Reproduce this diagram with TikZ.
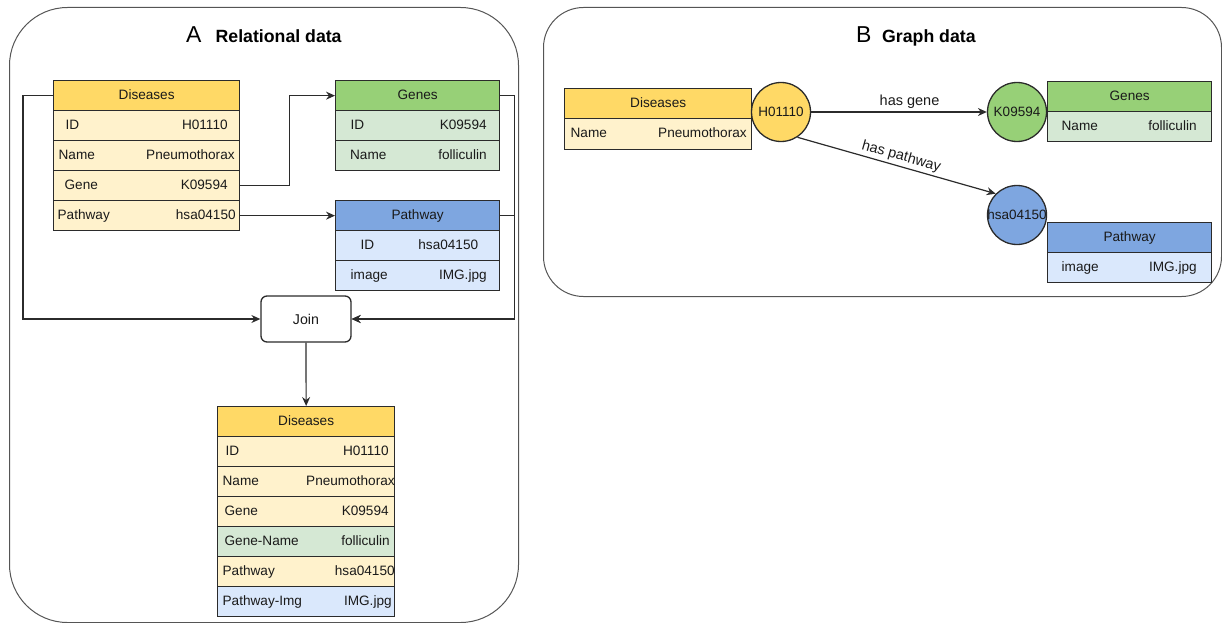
\documentclass[tikz,border=0pt]{standalone}
\usepackage{fontspec}
\setmainfont{Liberation Sans}
\usetikzlibrary{arrows.meta}
\definecolor{yhead}{HTML}{FFD966}
\definecolor{yrow}{HTML}{FFF2CC}
\definecolor{ghead}{HTML}{97D077}
\definecolor{grow}{HTML}{D5E8D4}
\definecolor{bhead}{HTML}{7EA6E0}
\definecolor{brow}{HTML}{DAE8FC}
\definecolor{bd}{HTML}{2B2B2B}
\definecolor{txt}{HTML}{1A1A1A}
\definecolor{panelc}{HTML}{555555}
\newcommand{\myfs}[1]{\fontsize{#1}{#1}\selectfont}
\def\rowh{30}
\newcommand{\thead}[6]{\node[cellbox, fill=#5, minimum height=\rowh pt] (#1) at (#2,#3) {\hbox to #4pt{\hfil #6\hfil}};}
\newcommand{\trow}[9]{\node[cellbox, fill=#5, minimum height=\rowh pt] (#1) at (#2,#3) {\hbox to #4pt{\hspace*{#6pt}#7\hfill #8\hspace*{#9pt}}};}
\tikzset{
  cellbox/.style={draw=bd, line width=1.3pt, inner sep=0pt, anchor=north west, text=txt,
    font=\myfs{13.6}, text height=9.8pt, text depth=2.7pt},
  panel/.style={draw=panelc, line width=1pt, inner sep=0pt, anchor=north west},
  conn/.style={draw=bd, line width=1.2pt, -{Stealth[length=9pt, width=8pt, inset=3pt]}},
  gcirc/.style={circle, draw=bd, line width=1.3pt, minimum size=59pt, inner sep=0pt, text=txt, font=\myfs{13.5}},
  elab/.style={font=\myfs{14.5}, text=txt, inner sep=2.5pt},
  ttl/.style={anchor=base west, inner sep=0pt, text=black},
  joinbox/.style={draw=bd, line width=1.3pt, rounded corners=6pt, fill=white, minimum width=90pt, minimum height=46pt, inner sep=0pt, font=\myfs{14.2}, text=txt}
}
\begin{document}
\begin{tikzpicture}[x=1pt, y=-1pt]
\useasboundingbox (0,0) rectangle (1222,623);
% panels
\node[panel, rounded corners=58pt, minimum width=509pt, minimum height=615pt] (panA) at (9,7) {};
\node[panel, rounded corners=40pt, minimum width=678pt, minimum height=289pt] (panB) at (543,7) {};
% titles
\node[ttl, font=\myfs{23}] (tA) at (186,43) {A};
\node[ttl, font=\bfseries\myfs{17.7}] (tA2) at (215.5,43) {Relational data};
\node[ttl, font=\myfs{23}] (tB) at (856,43) {B};
\node[ttl, font=\bfseries\myfs{17.7}] (tB2) at (882,43) {Graph data};

% ---- Panel A: Diseases
\def\rowh{30}
\thead{dAh}{53}{80}{186}{yhead}{Diseases}
\trow{dA1}{53}{110}{186}{yrow}{12}{ID}{H01110}{12}
\trow{dA2}{53}{140}{186}{yrow}{5}{Name}{Pneumothorax}{5}
\trow{dA3}{53}{170}{186}{yrow}{11}{Gene}{K09594}{12}
\trow{dA4}{53}{200}{186}{yrow}{4}{Pathway}{hsa04150}{4}
% Genes
\thead{gAh}{335}{80}{164}{ghead}{Genes}
\trow{gA1}{335}{110}{164}{grow}{15}{ID}{K09594}{13}
\trow{gA2}{335}{140}{164}{grow}{14.5}{Name}{folliculin}{13}
% Pathway
\thead{pAh}{335}{200}{164}{bhead}{Pathway}
\trow{pA1}{335}{230}{164}{brow}{25}{ID}{hsa04150}{21.5}
\trow{pA2}{335}{260}{164}{brow}{15}{image}{IMG.jpg}{13}
% Join
\node[joinbox] (join) at (306,319) {Join};
% Result
\def\rowh{30}
\thead{rh}{217}{406}{177}{yhead}{Diseases}
\trow{r1}{217}{436}{177}{yrow}{8}{ID}{H01110}{6}
\trow{r2}{217}{466}{177}{yrow}{5}{Name}{Pneumothorax}{0}
\trow{r3}{217}{496}{177}{yrow}{7}{Gene}{K09594}{6}
\trow{r4}{217}{526}{177}{grow}{7}{Gene-Name}{folliculin}{5}
\trow{r5}{217}{556}{177}{yrow}{5}{Pathway}{hsa04150}{0}
\trow{r6}{217}{586}{177}{brow}{5}{Pathway-Img}{IMG.jpg}{3}

% connectors A
\draw[conn] (dAh.west) -- ++(-30,0) |- (join.west);
\draw[conn] (gAh.east) -- ++(14,0) |- (join.east);
\draw[conn] (pAh.east) -- ++(14,0) |- (join.east);
\draw[conn] (dA3.east) -- ++(49,0) |- (gAh.west);
\draw[conn] (dA4.east) -- (pAh.west);
\draw[conn] (join.south) -- (rh.north);

% ---- Panel B
\def\rowh{30}
\thead{dBh}{564}{88}{187}{yhead}{Diseases}
\def\rowh{31}
\trow{dB1}{564}{118}{187}{yrow}{6}{Name}{Pneumothorax}{5}
\def\rowh{30}
\thead{gBh}{1047}{81}{164}{ghead}{Genes}
\trow{gB1}{1047}{111}{164}{grow}{14}{Name}{folliculin}{15}
\thead{pBh}{1047}{222}{164}{bhead}{Pathway}
\trow{pB1}{1047}{252}{164}{brow}{14}{image}{IMG.jpg}{15}

\node[gcirc, fill=yhead] (H) at (781,112) {\makebox[0pt]{H01110}};
\node[gcirc, fill=ghead] (K) at (1017,112) {\makebox[0pt]{K09594}};
\node[gcirc, fill=bhead] (P) at (1017,215) {\makebox[0pt]{hsa04150}};

\draw[conn] (H.east) -- node[elab, above, pos=0.56] {has gene} (K.west);
\draw[conn] (H.-57) -- node[elab, sloped, above, pos=0.51] {has pathway} (P.north west);
\end{tikzpicture}
\end{document}
